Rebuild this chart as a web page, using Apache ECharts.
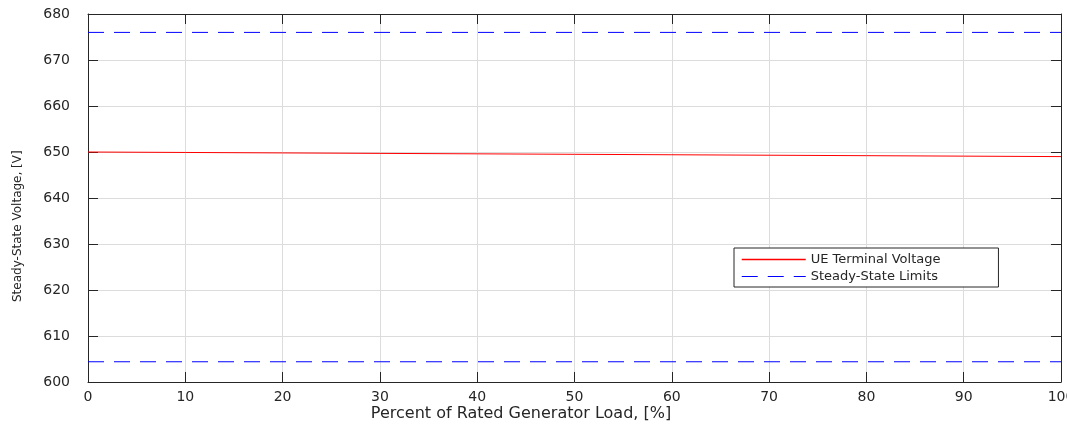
<!DOCTYPE html>
<html>
<head>
<meta charset="utf-8">
<script src="https://cdn.jsdelivr.net/npm/echarts@6/dist/echarts.min.js"></script>
<style>
  html, body { margin: 0; padding: 0; background: #fff; }
  #chart { width: 1067px; height: 425px; }
</style>
</head>
<body>
<div id="chart"></div>
<script>
var loadPct = [0, 10, 20, 30, 40, 50, 60, 70, 80, 90, 100];
var terminalVoltage = [650.0, 649.9, 649.8, 649.7, 649.6, 649.5, 649.4, 649.3, 649.2, 649.1, 649.0];
var limitX = [0, 100];
var upperLimit = 676;
var lowerLimit = 604.4;

var font = 'DejaVu Sans, Arial, Helvetica, sans-serif';
var ink = '#262626';
var red = '#ff0000';
var blue = '#0000ff';
var dash = [16, 10];

var chart = echarts.init(document.getElementById('chart'));

var tickStyle = { show: true, inside: true, length: 10, lineStyle: { color: ink, width: 1 } };
var axisLineStyle = { show: true, onZero: false, lineStyle: { color: ink, width: 1 } };

var option = {
    animation: false,
    backgroundColor: '#fff',
    textStyle: { fontFamily: font },
    grid: { left: 88, right: 6, top: 14, bottom: 43, containLabel: false, outerBoundsMode: 'none' },
    legend: {
        orient: 'vertical',
        left: 734,
        top: 248,
        padding: [5, 58, 4, 7],
        itemGap: 4,
        itemWidth: 64,
        itemHeight: 14,
        itemStyle: { opacity: 0 },
        borderColor: ink,
        borderWidth: 1,
        backgroundColor: '#fff',
        textStyle: { fontFamily: font, fontSize: 13, color: ink },
        data: [
            { name: 'UE Terminal Voltage', lineStyle: { color: red, width: 1.5 } },
            { name: 'Steady-State Limits', lineStyle: { color: blue, width: 1, type: dash } }
        ]
    },
    graphic: [
        {
            type: 'text', x: 521, y: 406,
            style: { text: 'Percent of Rated Generator Load, [%]', font: '16px ' + font, fill: ink, align: 'center' }
        },
        {
            type: 'text', x: 12, y: 302, rotation: Math.PI / 2,
            style: { text: 'Steady-State Voltage, [V]', font: '12px ' + font, fill: ink }
        }
    ],
    xAxis: [{
        type: 'value',
        min: 0, max: 100, interval: 10,
        axisLine: axisLineStyle,
        axisTick: tickStyle,
        axisLabel: { fontFamily: font, fontSize: 14, color: ink, margin: 8 },
        splitLine: { show: true, lineStyle: { color: '#dcdcdc', width: 1 } }
    }, {
        type: 'value', position: 'top',
        min: 0, max: 100, interval: 10,
        axisLine: axisLineStyle,
        axisTick: tickStyle,
        axisLabel: { show: false },
        splitLine: { show: false }
    }],
    yAxis: [{
        type: 'value',
        min: 600, max: 680, interval: 10,
        axisLine: axisLineStyle,
        axisTick: tickStyle,
        axisLabel: { fontFamily: font, fontSize: 14, color: ink, margin: 18 },
        splitLine: { show: true, lineStyle: { color: '#dcdcdc', width: 1 } }
    }, {
        type: 'value', position: 'right',
        min: 600, max: 680, interval: 10,
        axisLine: axisLineStyle,
        axisTick: tickStyle,
        axisLabel: { show: false },
        splitLine: { show: false }
    }],
    series: [
        {
            name: 'UE Terminal Voltage',
            type: 'line',
            symbol: 'none',
            itemStyle: { color: red },
            lineStyle: { color: red, width: 1 },
            data: loadPct.map(function (x, i) { return [x, terminalVoltage[i]]; })
        },
        {
            name: 'Steady-State Limits',
            type: 'line',
            symbol: 'none',
            itemStyle: { color: blue },
            lineStyle: { color: blue, width: 1, type: dash },
            data: limitX.map(function (x) { return [x, upperLimit]; })
        },
        {
            name: 'Steady-State Limits',
            type: 'line',
            symbol: 'none',
            itemStyle: { color: blue },
            lineStyle: { color: blue, width: 1, type: dash },
            data: limitX.map(function (x) { return [x, lowerLimit]; })
        }
    ]
};

chart.setOption(option);
</script>
</body>
</html>
